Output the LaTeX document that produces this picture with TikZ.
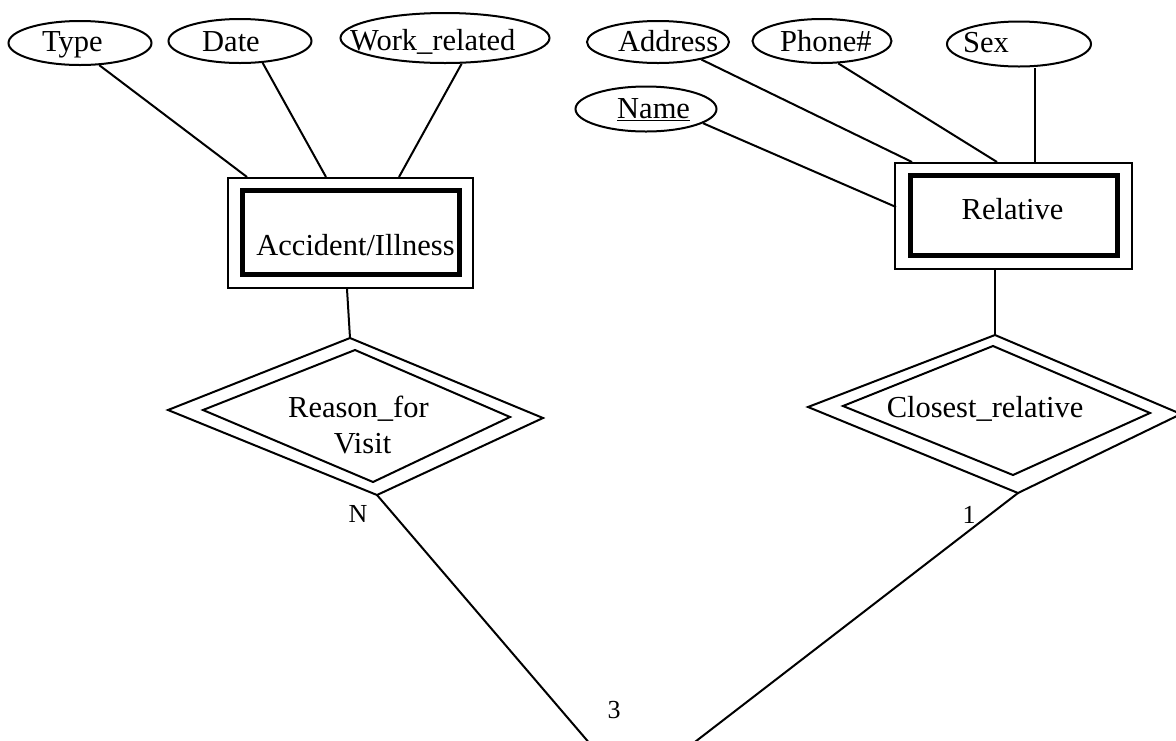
\documentclass[tikz,border=0pt]{standalone}
\usepackage{fontspec}
\setmainfont{Liberation Serif}
\usetikzlibrary{shapes.geometric,calc}
\begin{document}
\begin{tikzpicture}[x=1pt,y=-1pt,
  attr/.style={draw, ellipse, inner sep=0pt, line width=2pt},
  lbl/.style={anchor=base west, inner sep=0pt, font=\fontsize{30.5}{36}\selectfont},
  ctext/.style={anchor=base, inner sep=0pt, font=\fontsize{30.5}{36}\selectfont},
  card/.style={anchor=base, inner sep=0pt, font=\fontsize{26}{30}\selectfont},
  thinline/.style={line width=2pt},
  thickline/.style={line width=5pt},
  entbox/.style={draw, rectangle, inner sep=0pt, line width=2pt},
  line join=miter]
\useasboundingbox (0,0) rectangle (1176,740);
\fill[white] (0,0) rectangle (1176,740);

% attributes
\node[attr, minimum width=143pt, minimum height=44pt] (type) at (80,43) {};
\node[lbl] (typet) at (42,51) {Type};
\node[attr, minimum width=143pt, minimum height=44pt] (date) at (240,41) {};
\node[lbl] (datet) at (202,51) {Date};
\node[attr, minimum width=209pt, minimum height=50pt] (work) at (445,38) {};
\node[lbl] (workt) at (350,50) {Work\_related};
\node[attr, minimum width=142pt, minimum height=42pt] (addr) at (658,42) {};
\node[lbl] (addrt) at (618,51) {Address};
\node[attr, minimum width=139pt, minimum height=44pt] (phone) at (822,41) {};
\node[lbl] (phonet) at (780,51) {Phone\#};
\node[attr, minimum width=144pt, minimum height=45pt] (sex) at (1019,44) {};
\node[lbl] (sext) at (963,52) {Sex};
\node[attr, minimum width=141pt, minimum height=45pt] (name) at (646,109) {};
\node[lbl] (namet) at (617,118) {\underline{Name}};

% entity boxes
\node[entbox, minimum width=245pt, minimum height=110pt] (acc) at (350.5,233) {};
\draw[thickline] (242.5,190.5) rectangle (459.5,274.5);
\node[ctext] (acct) at (355.5,255) {Accident/Illness};

\node[entbox, minimum width=237pt, minimum height=106pt] (rel) at (1013.5,216) {};
\draw[thickline] (910.5,175) rectangle (1117.5,255.7);
\node[ctext] (relt) at (1012.5,219) {Relative};

% relationship diamonds
\coordinate (rvL) at (168,410);
\coordinate (rvT) at (350,338);
\coordinate (rvR) at (543,418);
\coordinate (rvB) at (377,495);
\draw[thinline] (rvL) -- (rvT) -- (rvR) -- (rvB) -- cycle;
\draw[thinline] (203,410) -- (355,350) -- (510,417) -- (373,482) -- cycle;
\node[ctext] (rvt1) at (358.5,417) {Reason\_for};
\node[ctext] (rvt2) at (362.5,453) {Visit};

\coordinate (crL) at (808,407);
\coordinate (crT) at (995,335);
\coordinate (crR) at (1181,414);
\coordinate (crB) at (1018,493);
\draw[thinline] (crL) -- (crT) -- (crR) -- (crB) -- cycle;
\draw[thinline] (843,406) -- (993,346) -- (1150,413) -- (1013,475) -- cycle;
\node[ctext] (crt) at (985,417) {Closest\_relative};

% connectors
\draw[thinline] (type.-49) -- ($(acc.north west)+(20,0)$);
\draw[thinline] (date.-44) -- ($(acc.north west)+(99,0)$);
\draw[thinline] (work.-57) -- ($(acc.north west)+(172,0)$);
\draw[thinline] ($(acc.south west)+(120,0)$) -- (rvT);

\coordinate (relSex) at ($(rel.north west)+(141,0)$);
\draw[thinline] (addr.-22) -- ($(rel.north west)+(18,0)$);
\draw[thinline] (phone.-54.5) -- ($(rel.north west)+(103,0)$);
\draw[thinline] (relSex) -- (relSex |- sex.south);
\draw[thinline] (name.-14.7) -- ($(rel.north west)+(2,45)$);
\draw[thinline] ($(rel.south west)+(101,0)$) -- (crT);

\coordinate (endL) at (591,745);
\coordinate (endR) at (691,745);
\draw[thinline] (rvB) -- (endL);
\draw[thinline] (crB) -- (endR);

% cardinalities
\node[card] (cN) at (358,522) {N};
\node[card] (c1) at (969,523) {1};
\node[card] (c3) at (614,718) {3};
\end{tikzpicture}
\end{document}
